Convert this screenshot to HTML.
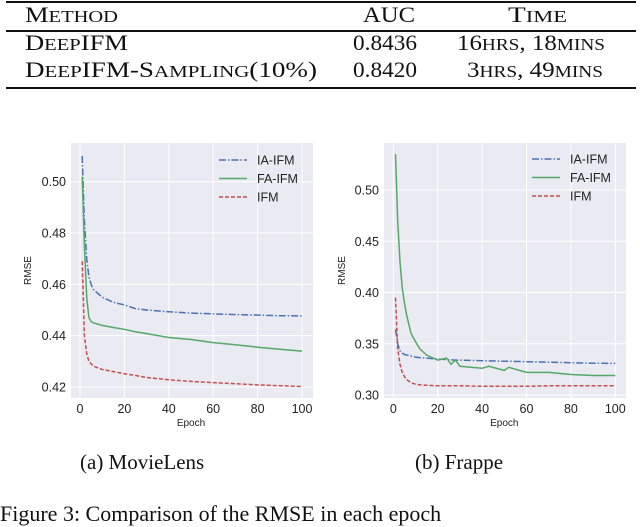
<!DOCTYPE html>
<html><head><meta charset="utf-8"><style>
body{margin:0;background:#fff;width:640px;height:514px;overflow:hidden;position:relative;font-family:"Liberation Serif",serif}
.t{position:absolute;font-size:24px;color:#111;white-space:nowrap}
.rule{position:absolute;left:6px;width:630px;background:#111}
</style></head><body>
<div class="rule" style="top:1px;height:2px"></div>
<div class="rule" style="top:30px;height:1.5px"></div>
<div class="rule" style="top:87px;height:2px"></div>
<svg width="640" height="100" style="position:absolute;left:0;top:0" font-family="Liberation Serif, serif" font-size="22" fill="#111">
<text x="25" y="22" textLength="93" lengthAdjust="spacingAndGlyphs">M<tspan font-size="17">ETHOD</tspan></text>
<text x="363" y="22" textLength="52" lengthAdjust="spacingAndGlyphs">AUC</text>
<text x="508" y="22" textLength="59" lengthAdjust="spacingAndGlyphs">T<tspan font-size="17">IME</tspan></text>
<text x="25" y="50" textLength="103" lengthAdjust="spacingAndGlyphs">D<tspan font-size="17">EEP</tspan>IFM</text>
<text x="353" y="50" textLength="64" lengthAdjust="spacingAndGlyphs">0.8436</text>
<text x="457" y="50" textLength="148" lengthAdjust="spacingAndGlyphs">16<tspan font-size="17">HRS</tspan>, 18<tspan font-size="17">MINS</tspan></text>
<text x="25" y="77" textLength="292" lengthAdjust="spacingAndGlyphs">D<tspan font-size="17">EEP</tspan>IFM-S<tspan font-size="17">AMPLING</tspan>(10%)</text>
<text x="353" y="77" textLength="64" lengthAdjust="spacingAndGlyphs">0.8420</text>
<text x="467" y="77" textLength="136" lengthAdjust="spacingAndGlyphs">3<tspan font-size="17">HRS</tspan>, 49<tspan font-size="17">MINS</tspan></text>
</svg>

<svg id="chart" width="640" height="514" style="position:absolute;left:0;top:0"></svg>
<div class="t" style="left:80px;top:450px;font-size:21px">(a) MovieLens</div>
<div class="t" style="left:415px;top:450px;font-size:21px">(b) Frappe</div>
<div class="t" style="left:0px;top:501px;font-size:22px">Figure 3: Comparison of the RMSE in each epoch</div>

<script>
const mlEpochs=[1,2,3,4,5,6,8,10,15,20,25,30,40,50,60,70,80,90,100];
const mlIA=[0.510,0.485,0.470,0.463,0.460,0.458,0.4565,0.455,0.453,0.452,0.4505,0.4500,0.4493,0.4488,0.4485,0.4482,0.4480,0.4478,0.4477];
const mlFA=[0.502,0.475,0.455,0.447,0.4455,0.445,0.4445,0.444,0.4432,0.4425,0.4415,0.4408,0.4393,0.4385,0.4373,0.4365,0.4355,0.4347,0.4340];
const mlIFM=[0.469,0.440,0.433,0.430,0.4290,0.4282,0.4275,0.4268,0.426,0.4252,0.4245,0.4237,0.4228,0.4222,0.4217,0.4213,0.4208,0.4205,0.4202];
const frEpochs=[1,2,3,4,5,6,8,10,12,15,20,24,26,28,30,40,43,50,52,60,70,80,90,100];
const frIA=[0.364,0.350,0.343,0.341,0.3395,0.339,0.338,0.337,0.3365,0.336,0.335,0.3345,0.3343,0.334,0.334,0.3335,0.3333,0.333,0.333,0.3325,0.332,0.3315,0.331,0.3308];
const frFA=[0.535,0.47,0.43,0.405,0.39,0.378,0.360,0.352,0.345,0.339,0.334,0.336,0.330,0.334,0.328,0.326,0.328,0.324,0.327,0.322,0.322,0.320,0.319,0.319];
const frIFM=[0.395,0.345,0.330,0.322,0.318,0.315,0.312,0.3105,0.310,0.3095,0.309,0.309,0.309,0.309,0.309,0.3085,0.3085,0.3085,0.3085,0.3085,0.309,0.309,0.309,0.309];
const xTicks=[0,20,40,60,80,100];
const mlYTicks=[0.42,0.44,0.46,0.48,0.50];
const frYTicks=[0.30,0.35,0.40,0.45,0.50];
const seriesNames=["IA-IFM","FA-IFM","IFM"];

const svg=document.getElementById('chart');
const NS='http://www.w3.org/2000/svg';
function mk(tag,attrs,parent){const e=document.createElementNS(NS,tag);for(const k in attrs)e.setAttribute(k,attrs[k]);(parent||svg).appendChild(e);return e;}
const styles=[{c:'#4c72b0',d:'7,2,1.5,2'},{c:'#55a868',d:''},{c:'#c44e52',d:'4,2'}];
const F='Liberation Sans, sans-serif';

function drawPanel(p){
  const g=mk('g',{});
  
  
  const X=v=>p.x0+(v-0)/(100-0)*(p.x100-p.x0);
  const Y=v=>p.yA+(v-p.vA)/(p.vB-p.vA)*(p.yB-p.yA);
  const bg=mk('rect',{x:p.l,y:p.t,width:p.r-p.l,height:p.b-p.t,fill:'#eaeaf2'},g);
  
  
  xTicks.forEach(v=>{
    mk('line',{x1:X(v),x2:X(v),y1:p.t,y2:p.b,stroke:'#fff','stroke-width':1},g);
    const t=mk('text',{x:X(v),y:p.b+15,'text-anchor':'middle','font-size':12.5,'font-family':F,fill:'#222'},g);
    t.textContent=v;
    
    
  });
  p.yTicks.forEach(v=>{
    mk('line',{x1:p.l,x2:p.r,y1:Y(v),y2:Y(v),stroke:'#fff','stroke-width':1},g);
    const t=mk('text',{x:p.l-5,y:Y(v)+4.5,'text-anchor':'end','font-size':12.5,'font-family':F,fill:'#222'},g);
    t.textContent=v.toFixed(2);
    
    
  });
  const xt=mk('text',{x:(p.x0+p.x100)/2,y:p.b+28,'text-anchor':'middle','font-size':10,'font-family':F,fill:'#222'},g);
  xt.textContent='Epoch';
  
  
  const yc=(p.t+p.b)/2;
  const yt=mk('text',{x:p.ylx,y:yc,'text-anchor':'middle','font-size':10,'font-family':F,fill:'#222',transform:`rotate(-90 ${p.ylx} ${yc})`},g);
  yt.textContent='RMSE';
  
  
  p.series.forEach((s,i)=>{
    const pts=p.epochs.map((e,j)=>X(e).toFixed(1)+','+Y(s[j]).toFixed(1)).join(' ');
    const pl=mk('polyline',{points:pts,fill:'none',stroke:styles[i].c,'stroke-width':1.5,'stroke-dasharray':styles[i].d},g);
    
    
    const ly=p.legY+i*18.5;
    const ll=mk('line',{x1:p.legX,x2:p.legX+28,y1:ly,y2:ly,stroke:styles[i].c,'stroke-width':1.5,'stroke-dasharray':styles[i].d},g);
    
    
    const lt=mk('text',{x:p.legX+38,y:ly+4.5,'font-size':12.5,'font-family':F,fill:'#222'},g);
    lt.textContent=seriesNames[i];
    
    
  });
}
drawPanel({name:'movielens-chart',l:71,r:313,t:143,b:398,x0:80,x100:302,yA:181.7,vA:0.50,yB:387,vB:0.42,yTicks:mlYTicks,ylx:31,epochs:mlEpochs,series:[mlIA,mlFA,mlIFM],legX:219,legY:160});
drawPanel({name:'frappe-chart',l:384,r:626,t:143,b:398,x0:393.3,x100:615.3,yA:190,vA:0.50,yB:395,vB:0.30,yTicks:frYTicks,ylx:345,epochs:frEpochs,series:[frIA,frFA,frIFM],legX:532,legY:159});
</script>
</body></html>
